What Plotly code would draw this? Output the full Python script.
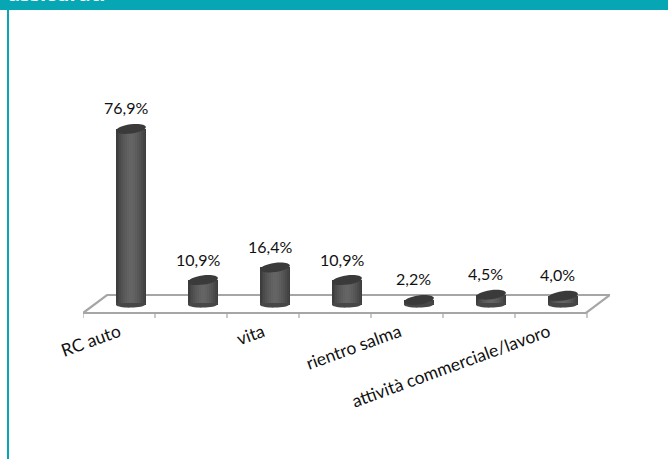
import math
import plotly.graph_objects as go

categories = ["RC auto", "assistenza", "vita", "infortuni", "rientro salma", "sanitaria", "attività commerciale/lavoro"]
tick_labels = ["RC auto", "", "vita", "", "rientro salma", "", "attività commerciale/lavoro"]
values = [76.9, 10.9, 16.4, 10.9, 2.2, 4.5, 4.0]
value_labels = ["76,9%", "10,9%", "16,4%", "10,9%", "2,2%", "4,5%", "4,0%"]

W, H = 668, 459
L, R, T, B = 83, 610, 100, 318
PX_X = 72.0
PX_Y = 2.29
xr = [-(131 - L) / PX_X, (R - 131) / PX_X]
yr = [-(B - 305) / PX_Y, (305 - T) / PX_Y]
xs = list(range(len(values)))

fig = go.Figure()
shades = [(1.0, "#8a8a8a"), (0.97, "#3d3d3d"), (0.9, "#444444"), (0.8, "#4b4b4b"), (0.68, "#525252"),
          (0.54, "#585858"), (0.4, "#5d5d5d"), (0.25, "#616161"), (0.12, "#646464")]
for frac, col in shades:
    fig.add_bar(x=xs, y=values, width=frac * 30 / PX_X, marker=dict(color=col, line=dict(width=0)),
                hoverinfo="skip", showlegend=False)

GREY = "#a6a6a6"
shapes = []
def px_x(p): return (p - 131) / PX_X
def px_y(p): return (305 - p) / PX_Y
# floor
shapes.append(dict(type="path", layer="below", xref="x", yref="y",
    path=f"M {px_x(83)} {px_y(313)} L {px_x(107)} {px_y(295)} L {px_x(610)} {px_y(295)} L {px_x(586)} {px_y(313)} Z",
    line=dict(color=GREY, width=2.2), fillcolor="white"))
for i in range(8):
    xp = px_x(83 + i * 72)
    shapes.append(dict(type="line", layer="below", xref="x", yref="y", x0=xp, x1=xp,
                       y0=px_y(313), y1=px_y(318), line=dict(color=GREY, width=1.2)))

def ellipse_path(a=15.0, b=4.6, deg=8.0):
    c, s = math.cos(math.radians(deg)), math.sin(math.radians(deg))
    rot = lambda x, y: (round(x * c - y * s, 2), round(x * s + y * c, 2))
    k = 0.5523
    p0 = rot(-a, 0)
    segs = [((-a, k * b), (-k * a, b), (0, b)), ((k * a, b), (a, k * b), (a, 0)),
            ((a, -k * b), (k * a, -b), (0, -b)), ((-k * a, -b), (-a, -k * b), (-a, 0))]
    d = f"M {p0[0]} {p0[1]}"
    for seg in segs:
        pts = [rot(*q) for q in seg]
        d += " C " + " ".join(f"{x} {y}" for x, y in pts)
    return d + " Z"

def cap(i, v, color):
    # tilted ellipse drawn in pixels, anchored on the bar's value through the y axis
    return dict(type="path", xref="x", yref="y", xsizemode="pixel", ysizemode="pixel",
                xanchor=i, yanchor=v, path=ellipse_path(),
                fillcolor=color, line=dict(width=0), layer="above")
def foot(i):
    return dict(type="path", xref="x", yref="y", xsizemode="pixel", ysizemode="pixel",
                xanchor=i, yanchor=0,
                path="M -15 0 C -13 -2 -7 -2.8 0 -2.6 C 7 -2.4 14 -1.5 15 1 L 15 2 L -15 2 Z",
                fillcolor="#474747", line=dict(width=0), layer="above")
for i, v in zip(xs, values):
    shapes.append(foot(i))
    shapes.append(cap(i, v, "#3a3a3a"))

# page furniture
def py(p): return (B - p) / (B - T)
def pxx(p): return (p - L) / (R - L)
shapes.append(dict(type="rect", xref="paper", yref="paper", x0=pxx(0), x1=pxx(W), y0=py(0), y1=py(10),
                   fillcolor="#07a6b5", line=dict(width=0), layer="below"))
shapes.append(dict(type="rect", xref="paper", yref="paper", x0=pxx(7), x1=pxx(9), y0=py(0), y1=py(H),
                   fillcolor="#07a6b5", line=dict(width=0), layer="below"))

ann = [dict(x=i, y=v, text=t, showarrow=False, xshift=-5.5, yshift=21, yanchor="middle", xanchor="center",
            font=dict(family="Lato", size=16, color="#111111"))
       for i, v, t in zip(xs, values, value_labels)]
ann.append(dict(xref="paper", yref="paper", x=pxx(8), y=py(3), text="<b>assicurati</b>", showarrow=False,
                xanchor="left", yanchor="bottom", yshift=-6, xshift=-2,
                font=dict(family="Open Sans", size=20, color="white")))

label_offsets = [0.167, 0.167, 0.167, 0.167, 0.27, 0.167, 0.2]
fig.update_layout(
    width=W, height=H, autosize=False, barmode="overlay", bargap=0,
    margin=dict(l=L, r=W - R, t=T, b=H - B, pad=0),
    paper_bgcolor="white", plot_bgcolor="white", showlegend=False,
    shapes=shapes, annotations=ann,
    font=dict(family="Lato", size=17.5, color="#111111"),
    xaxis=dict(range=xr, tickmode="array", tickvals=[x - o for x, o in zip(xs, label_offsets)], ticktext=tick_labels,
               tickangle=-20, ticks="", showgrid=False, zeroline=False, showline=False,
               tickfont=dict(family="Lato", size=17.5, color="#111111"), fixedrange=True),
    yaxis=dict(range=yr, visible=False, showgrid=False, zeroline=False, fixedrange=True),
)
fig.write_html("out.html", config=dict(displayModeBar=False),
               post_script="document.body.style.margin='0';")
